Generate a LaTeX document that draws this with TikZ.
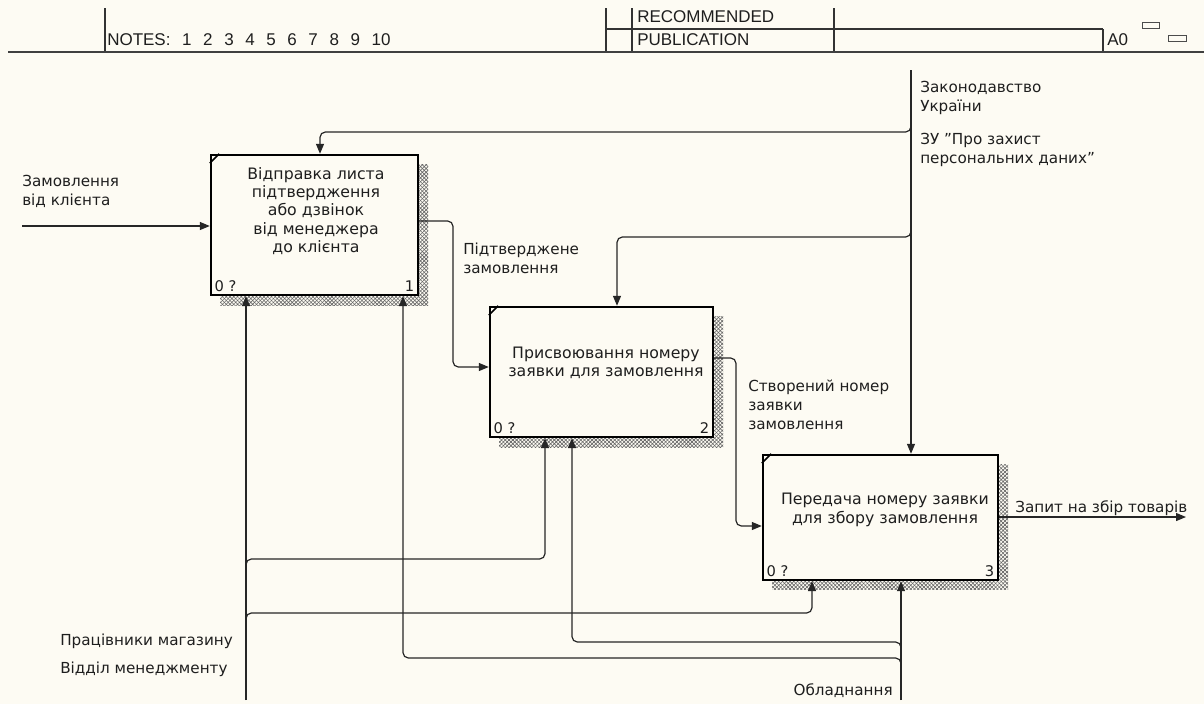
\documentclass[tikz,border=0pt]{standalone}
\usepackage{fontspec}
\setmainfont{DejaVu Sans}
\newfontfamily\hdrfont{Liberation Sans}
\usetikzlibrary{arrows.meta,patterns.meta}
\definecolor{bg}{RGB}{253,251,243}
\definecolor{txt}{RGB}{30,30,30}
\definecolor{hatchc}{RGB}{100,100,100}
\begin{document}
\begin{tikzpicture}[x=0.75pt,y=-0.75pt,
  conn/.style={line width=0.9pt, draw=black!85, rounded corners=4pt},
  arr/.style={-{Triangle[length=7.5pt,width=6pt]}},
  procbox/.style={draw=black, line width=1.8pt, fill=bg, inner sep=0pt},
  lbl/.style={font=\fontsize{11.4}{14.3}\selectfont, text=txt, inner sep=0pt, align=left, anchor=west},
  btxt/.style={font=\fontsize{11.8}{13.8}\selectfont, text=txt, inner sep=0pt, align=center},
  num/.style={font=\fontsize{11}{12}\selectfont, text=txt, inner sep=0pt},
  hdr/.style={font=\hdrfont\fontsize{12.75}{14}\selectfont, text=txt, inner sep=0pt, anchor=west},
  hline/.style={line width=0.8pt, draw=black!80},
  corner/.style={line width=1.2pt, draw=black}
]
\useasboundingbox (0,0) rectangle (1204,704);
\fill[bg] (0,0) rectangle (1204,704);

% ---------- header ----------
\draw[hline] (105,8) -- (105,52);
\draw[hline] (606,8) -- (606,52);
\draw[hline] (632,8) -- (632,52);
\draw[hline] (834,8) -- (834,52);
\draw[hline] (606,29) -- (1103,29);
\draw[hline] (1103,29) -- (1103,52);
\draw[line width=1.5pt, draw=black!75] (8,52) -- (1204,52);
\draw[line width=0.7pt, draw=black!70] (1142,22) rectangle (1159,28);
\draw[line width=0.7pt, draw=black!70] (1168,35) rectangle (1186,41);
\node[hdr] (notes) at (107,40) {\spaceskip=8.7pt plus 0pt NOTES: 1 2 3 4 5 6 7 8 9 10};
\node[hdr] (rec) at (637,17) {RECOMMENDED};
\node[hdr] (pub) at (637,40) {PUBLICATION};
\node[hdr] (a0) at (1107,40) {A0};

% ---------- shadows ----------
\foreach \xa/\ya/\xb/\yb in {220/164/428/305, 499/316/723/447, 772/464/1008/589}{
  \fill[pattern={Lines[angle=45,distance=2pt,line width=0.45pt]},pattern color=hatchc] (\xa,\ya) rectangle (\xb,\yb);
  \fill[pattern={Lines[angle=-45,distance=2pt,line width=0.45pt]},pattern color=hatchc] (\xa,\ya) rectangle (\xb,\yb);
}

% ---------- boxes ----------
\node[procbox, minimum width=155.25pt, minimum height=105pt] (box1) at (314.5,225) {};
\node[procbox, minimum width=167.25pt, minimum height=97.5pt] (box2) at (601.5,372) {};
\node[procbox, minimum width=176.25pt, minimum height=93.75pt] (box3) at (880.5,517.5) {};

\foreach \b in {box1,box2,box3}{
  \draw[corner] ([yshift=-7pt]\b.north west) -- ([xshift=7pt]\b.north west);
}

\node[btxt] (t1) at (316,211) {Відправка листа\\підтвердження\\або дзвінок\\від менеджера\\до клієнта};
\node[btxt] (t2) at (606,363) {Присвоювання номеру\\заявки для замовлення};
\node[btxt] (t3) at (885,510) {Передача номеру заявки\\для збору замовлення};

\node[num, anchor=south west] (n1a) at ([shift={(3.5pt,3pt)}]box1.south west) {0 ?};
\node[num, anchor=south east] (n1b) at ([shift={(-3.5pt,3pt)}]box1.south east) {1};
\node[num, anchor=south west] (n2a) at ([shift={(3.5pt,3pt)}]box2.south west) {0 ?};
\node[num, anchor=south east] (n2b) at ([shift={(-3.5pt,3pt)}]box2.south east) {2};
\node[num, anchor=south west] (n3a) at ([shift={(3.5pt,3pt)}]box3.south west) {0 ?};
\node[num, anchor=south east] (n3b) at ([shift={(-3.5pt,3pt)}]box3.south east) {3};

% ---------- labels ----------
\node[lbl] (lin) at (22,191) {Замовлення\\від клієнта};
\node[lbl] (lo1) at (463,258) {Підтверджене\\замовлення};
\node[lbl] (lo2) at (748,405) {Створений номер\\заявки\\замовлення};
\node[lbl] (lo3) at (1015,508) {Запит на збір товарів};
\node[lbl] (lc1) at (920,98) {Законодавство\\України};
\node[lbl] (lc2) at (920,150) {ЗУ "Про захист\\персональних даних"};
\node[lbl] (lm1) at (60,641) {Працівники магазину};
\node[lbl] (lm2) at (60,669) {Відділ менеджменту};
\node[lbl, anchor=east] (lm3) at (893,691) {Обладнання};

% ---------- coordinates ----------
\coordinate (in1) at (22,226);
\coordinate (out3) at (1186,517);
\coordinate (ctop) at (911,70);
\coordinate (m1) at (246,700);
\coordinate (m2) at (901,700);
\coordinate (jc1) at (911,124);
\coordinate (jc2) at (911,229);
\coordinate (jm1) at (246,567);
\coordinate (jm2) at (246,621);
\coordinate (jm3) at (901,650);
\coordinate (jm4) at (901,666);

% ---------- connectors ----------
\draw[conn,arr] (in1) -- (in1 -| box1.west);
\draw[conn,arr] (box1.east |- 0,221) -- (453,221) -- (453,367) -- (box2.west |- 0,367);
\draw[conn,arr] (box2.east |- 0,358) -- (736,358) -- (736,526) -- (box3.west |- 0,526);
\draw[conn,arr] (box3.east |- out3) -- (out3);

\draw[conn,arr] (ctop) -- (ctop |- box3.north);
\draw[conn,arr] (jc1) -- (911,132) -- (320,132) -- (320,0 |- box1.north);
\draw[conn,arr] (jc2) -- (911,237) -- (617,237) -- (617,0 |- box2.north);

\draw[conn,arr] (m1) -- (m1 |- box1.south);
\draw[conn,arr] (jm1) -- (246,559) -- (545,559) -- (545,0 |- box2.south);
\draw[conn,arr] (jm2) -- (246,613) -- (812,613) -- (812,0 |- box3.south);

\draw[conn,arr] (m2) -- (m2 |- box3.south);
\draw[conn,arr] (jm3) -- (901,642) -- (572,642) -- (572,0 |- box2.south);
\draw[conn,arr] (jm4) -- (901,658) -- (403,658) -- (403,0 |- box1.south);
\end{tikzpicture}
\end{document}
